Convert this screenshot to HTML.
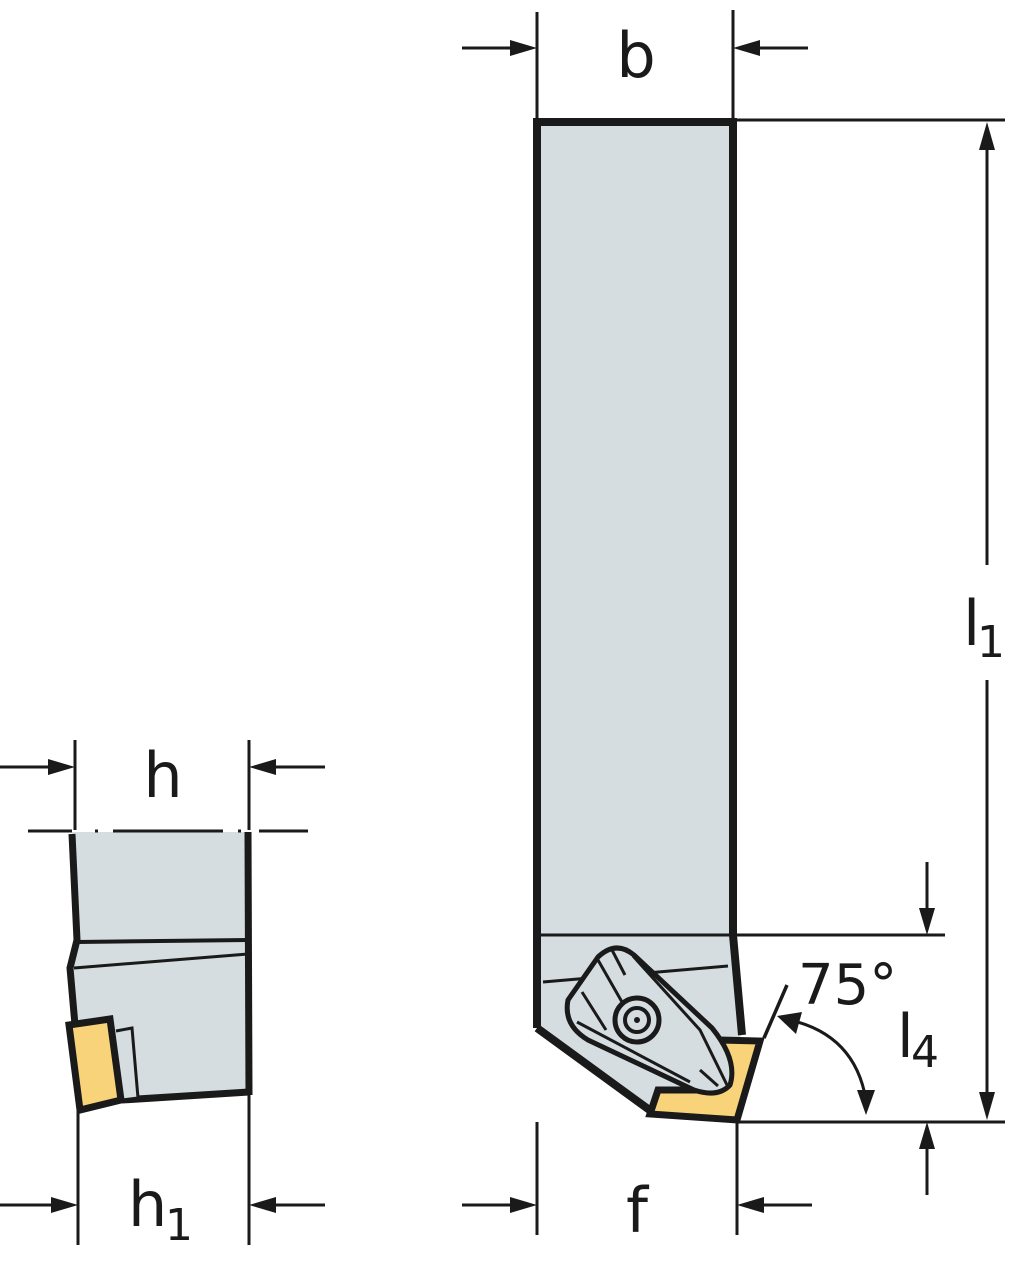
<!DOCTYPE html>
<html><head><meta charset="utf-8"><style>
html,body{margin:0;padding:0;background:#fff;}
svg{display:block;}
text{font-family:"DejaVu Sans","Liberation Sans",sans-serif;fill:#1a1a1a;}
</style></head><body>
<svg width="1024" height="1262" viewBox="0 0 1024 1262" xmlns="http://www.w3.org/2000/svg">
<g stroke="#1a1a1a" fill="none">
<!-- main body -->
<path d="M537,122 L733,122 L733,935 L742,1035 L655,1114 L537,1028 Z" fill="#d5dde0" stroke="none"/>
<path d="M537,1028 L537,122 L733,122 L733,935 L742,1035" stroke-width="8"/>
<line x1="537" y1="935" x2="945" y2="935" stroke-width="3"/>
<line x1="543" y1="982" x2="728" y2="966" stroke-width="3"/>
<path d="M537,1028 L655,1114" stroke-width="8"/>
<!-- insert -->
<path d="M719,1040 L760,1041 L737,1120 L650,1114 L658,1090 L700,1090 Q718,1085 719,1060 Z" fill="#f8d37a" stroke-width="7" stroke-linejoin="miter"/>
<!-- clamp -->
<path d="M598,957 Q616,940 634,955 L712,1028 Q738,1060 730,1085 Q718,1098 694,1090 L588,1040 Q563,1025 568,1000 Z" fill="#d5dde0" stroke-width="5"/>
<path d="M582,992 L606,1030 M598,960 L622,1002 M612,950 L625,975 M633,956 L700,1030 L727,1085 M577,1022 L690,1082 M700,1070 L718,1086" stroke-width="3"/>
<circle cx="637" cy="1020" r="22" fill="#d5dde0" stroke-width="5"/>
<circle cx="637" cy="1020" r="12" fill="#d5dde0" stroke-width="4"/>
<circle cx="637" cy="1020" r="3" fill="#1a1a1a" stroke="none"/>
<!-- angle -->
<line x1="787" y1="985" x2="764" y2="1038" stroke-width="3.5"/>
<path d="M790,1020 Q855,1035 866,1100" stroke-width="3"/>
<polygon points="777,1016 802,1012 796,1034" fill="#1a1a1a" stroke="none"/>
<polygon points="866,1115 857,1090 875,1090" fill="#1a1a1a" stroke="none"/>
<!-- dimension lines -->
<g stroke-width="3">
<line x1="537" y1="12" x2="537" y2="120"/>
<line x1="733" y1="10" x2="733" y2="120"/>
<line x1="733" y1="120" x2="1005" y2="120"/>
<line x1="737" y1="1122" x2="1005" y2="1122"/>
<line x1="987" y1="140" x2="987" y2="565"/>
<line x1="987" y1="680" x2="987" y2="1100"/>
<line x1="462" y1="48" x2="512" y2="48"/>
<line x1="758" y1="48" x2="808" y2="48"/>
<line x1="537" y1="1122" x2="537" y2="1235"/>
<line x1="737" y1="1122" x2="737" y2="1235"/>
<line x1="462" y1="1205" x2="512" y2="1205"/>
<line x1="762" y1="1205" x2="812" y2="1205"/>
<line x1="927" y1="862" x2="927" y2="910"/>
<line x1="927" y1="1147" x2="927" y2="1195"/>
<line x1="75" y1="740" x2="75" y2="830"/>
<line x1="249" y1="740" x2="249" y2="830"/>
<line x1="0" y1="767" x2="50" y2="767"/>
<line x1="274" y1="767" x2="325" y2="767"/>
<line x1="78" y1="1110" x2="78" y2="1245"/>
<line x1="249" y1="1093" x2="249" y2="1245"/>
<line x1="0" y1="1205" x2="52" y2="1205"/>
<line x1="274" y1="1205" x2="325" y2="1205"/>
</g>
<g fill="#1a1a1a" stroke="none">
<polygon points="537,48 510,40 510,56"/>
<polygon points="733,48 760,40 760,56"/>
<polygon points="537,1205 510,1197 510,1213"/>
<polygon points="737,1205 764,1197 764,1213"/>
<polygon points="987,122 979,150 995,150"/>
<polygon points="987,1120 979,1092 995,1092"/>
<polygon points="927,935 919,908 935,908"/>
<polygon points="927,1122 919,1149 935,1149"/>
<polygon points="75,767 48,759 48,775"/>
<polygon points="249,767 276,759 276,775"/>
<polygon points="78,1205 51,1197 51,1213"/>
<polygon points="249,1205 276,1197 276,1213"/>
</g>
<!-- left body -->
<path d="M72,832 L248,832 L248,1093 L122,1103 L75,1025 L70,968 L77,940 Z" fill="#d5dde0" stroke="none"/>
<line x1="28" y1="831" x2="72" y2="831" stroke-width="3"/>
<line x1="259" y1="831" x2="308" y2="831" stroke-width="3"/>
<path d="M95,831 L98,831 M113,831 L223,831 M238,831 L241,831" stroke-width="3"/>
<path d="M72,834 L77,940 L70,968 L75,1025" stroke-width="7"/>
<line x1="248" y1="832" x2="249" y2="1095" stroke-width="7"/>
<line x1="77" y1="942" x2="248" y2="940" stroke-width="4"/>
<line x1="74" y1="968" x2="248" y2="954" stroke-width="3"/>
<line x1="122" y1="1100" x2="249" y2="1092" stroke-width="7"/>
<path d="M116,1031 L132,1028 L138,1098 L122,1100" fill="#d5dde0" stroke-width="3"/>
<path d="M69,1025 L110,1019 L121,1100 L80,1110 Z" fill="#f8d37a" stroke-width="7"/>
</g>
<!-- labels -->
<text x="636" y="77" font-size="62" text-anchor="middle">b</text>
<text x="637" y="1232" font-size="62" text-anchor="middle">f</text>
<text x="163" y="797" font-size="62" text-anchor="middle">h</text>
<text x="128" y="1226" font-size="62">h</text>
<text x="165" y="1240" font-size="44">1</text>
<text x="963" y="645" font-size="62">l</text>
<text x="977" y="657" font-size="44">1</text>
<text x="798" y="1004" font-size="56">75°</text>
<text x="897" y="1057" font-size="60">l</text>
<text x="911" y="1067" font-size="44">4</text>
</svg>
</body></html>
